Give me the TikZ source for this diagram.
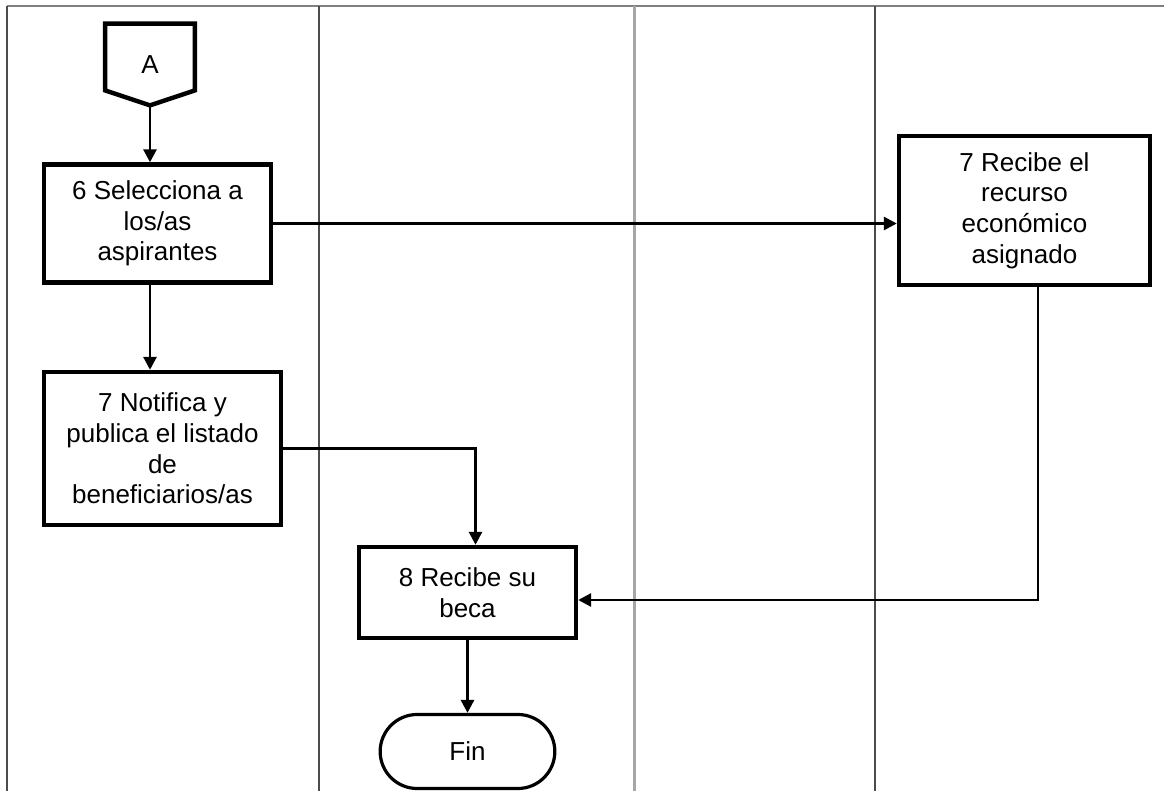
\documentclass[tikz,border=0pt]{standalone}
\usepackage{fontspec}
\setmainfont{Liberation Sans}
\usetikzlibrary{shapes.geometric, shapes.misc, arrows.meta, calc}

\begin{document}
\begin{tikzpicture}[x=0.5pt, y=-0.5pt, every node/.style={font=\fontsize{13}{15.3}\selectfont}]
% Styles
\tikzstyle{connector} = [rectangle, minimum width=44.5pt, minimum height=40.5pt, inner sep=0pt]
\tikzstyle{process} = [rectangle, draw=black, line width=2.2pt, text centered, align=center, inner sep=2pt]
\tikzstyle{startstop} = [rounded rectangle, draw=black, line width=1.6pt, text centered, align=center]
\tikzstyle{lane} = [black!70, line width=0.6pt]
\tikzstyle{arrow} = [line width=1.4pt,->,>={Triangle[length=6.5pt,width=6.5pt]}]

\useasboundingbox (0,0) rectangle (1164,791);

% Swimlanes
\draw [gray, line width=1pt] (7,6) -- (1164,6);
\draw [lane] (7,6) -- (7,791);
\draw [lane] (319,6) -- (319,791);
\draw [gray!70, line width=1.5pt] (634,6) -- (634,791);
\draw [lane] (875,6) -- (875,791);

\node (conA) [connector] at (150,64.5) {A};
\draw [line width=2.2pt, line join=miter] (conA.north west) -- (conA.north east)
  -- ([yshift=7.5pt]conA.south east) -- (conA.south) -- ([yshift=7.5pt]conA.south west) -- cycle;

\node (sel) [process, minimum width=113.5pt, minimum height=59pt] at (157.5,223.5) {6 Selecciona a \\ los/as \\ aspirantes};
\node (notif) [process, minimum width=118.5pt, minimum height=76.5pt] at (162.5,448.5) {7 Notifica y \\ publica el listado \\ de \\ beneficiarios/as};
\node (rec) [process, minimum width=125.5pt, minimum height=74.5pt] at (1024.5,210.5) {7 Recibe el \\ recurso \\ económico \\ asignado};
\node (beca) [process, minimum width=108.5pt, minimum height=45.5pt] at (467.5,592.5) {8 Recibe su \\ beca};
\node (fin) [startstop, minimum width=94pt, minimum height=37pt] at (467.5,751.5) {Fin};

\draw [arrow] (conA.south) -- (conA.south |- sel.north);
\draw [arrow] (sel.south -| conA.south) -- (notif.north -| conA.south);
\draw [arrow] (sel.east) -- (sel.east -| rec.west);
\draw [arrow] (notif.east) -| ([xshift=4pt]beca.north);
\draw [arrow] ([xshift=6.75pt]rec.south) |- ([yshift=-3.75pt]beca.east);
\draw [arrow] (beca) -- (fin);

\end{tikzpicture}
\end{document}
